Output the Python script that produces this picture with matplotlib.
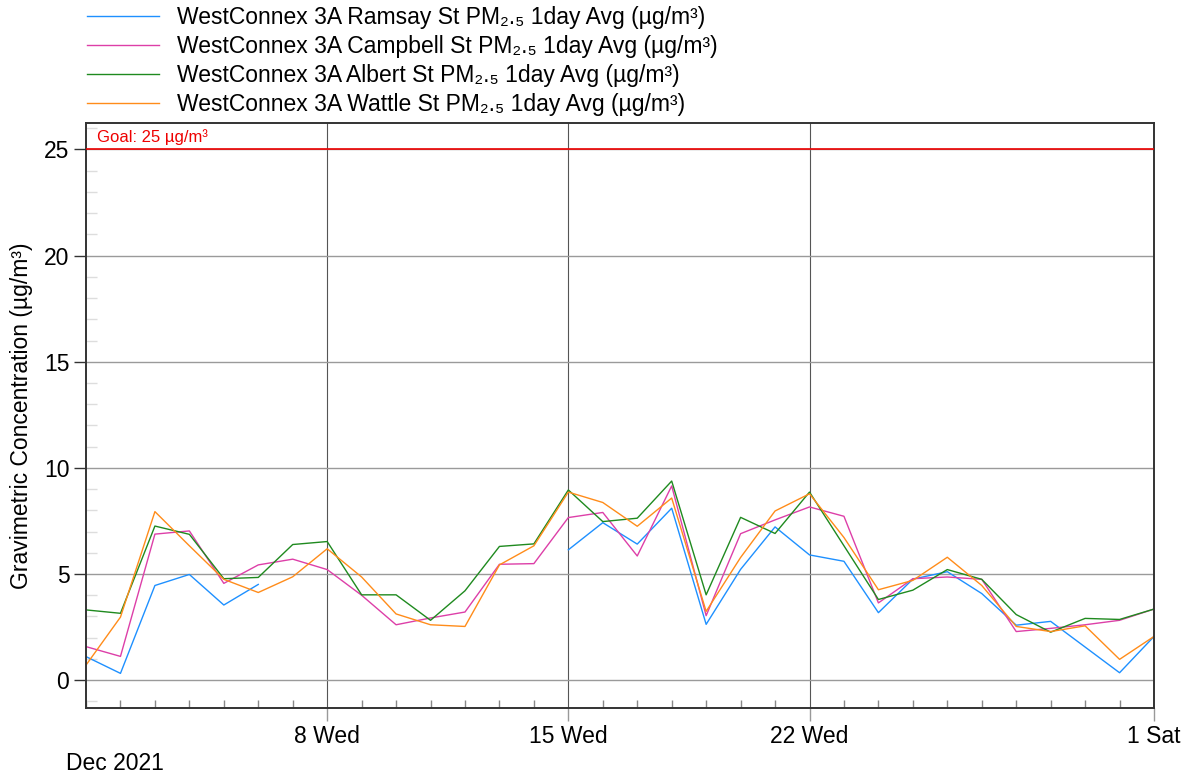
import matplotlib
matplotlib.use("Agg")
import matplotlib.pyplot as plt
import matplotlib.dates as mdates
import numpy as np
import pandas as pd

plt.rcParams["font.family"] = ["Liberation Sans", "DejaVu Sans"]

days = pd.date_range("2021-12-01", "2022-01-01", freq="D")
nan = np.nan

ramsay = [1.11, 0.32, 4.46, 4.98, 3.54, 4.51, nan, nan, nan, nan, nan, nan, nan, nan,
          6.14, 7.42, 6.41, 8.10, 2.63, 5.22, 7.22, 5.90, 5.60, 3.18, 4.76, 5.11,
          4.08, 2.59, 2.77, 1.56, 0.35, 2.06]
campbell = [1.58, 1.12, 6.88, 7.03, 4.56, 5.43, 5.70, 5.21, 4.00, 2.61, 2.93, 3.21,
            5.46, 5.49, 7.66, 7.90, 5.85, 9.15, 3.04, 6.90, 7.55, 8.16, 7.72, 3.64,
            4.78, 4.86, 4.75, 2.29, 2.44, 2.61, 2.82, 3.35]
albert = [3.31, 3.15, 7.26, 6.87, 4.78, 4.84, 6.39, 6.53, 4.02, 4.02, 2.82, 4.21,
          6.30, 6.42, 8.96, 7.47, 7.63, 9.38, 4.02, 7.67, 6.91, 8.86, 6.33, 3.80,
          4.24, 5.21, 4.75, 3.09, 2.26, 2.91, 2.86, 3.35]
wattle = [0.71, 2.97, 7.94, 6.33, 4.75, 4.13, 4.87, 6.19, 4.86, 3.12, 2.61, 2.53,
          5.43, 6.33, 8.86, 8.37, 7.25, 8.58, 3.24, 5.78, 7.97, 8.78, 6.72, 4.26,
          4.70, 5.79, 4.46, 2.53, 2.29, 2.56, 0.98, 2.06]

series = [
    ("WestConnex 3A Ramsay St PM₂.₅ 1day Avg (µg/m³)", ramsay, "#1e90ff"),
    ("WestConnex 3A Campbell St PM₂.₅ 1day Avg (µg/m³)", campbell, "#dd3fa8"),
    ("WestConnex 3A Albert St PM₂.₅ 1day Avg (µg/m³)", albert, "#1f8a1f"),
    ("WestConnex 3A Wattle St PM₂.₅ 1day Avg (µg/m³)", wattle, "#ff8c1a"),
]
goal = 25
major_days = pd.to_datetime(["2021-12-08", "2021-12-15", "2021-12-22", "2022-01-01"])

FS = 16.5

fig = plt.figure(figsize=(11.88, 7.78), dpi=100)
ax = fig.add_axes([0.0724, 0.090, 0.899, 0.752])

lines = []
for label, vals, color in series:
    ln, = ax.plot(days, vals, color=color, lw=1.0, label=label)
    lines.append(ln)

ax.axhline(goal, color="#ee0000", lw=1.2, zorder=3)
ax.text(days[0] + pd.Timedelta(hours=8), goal + 0.2, "Goal: 25 µg/m³",
        color="#ee0000", fontsize=12, va="bottom", ha="left")

ax.set_xlim(days[0], days[-1])
ax.set_ylim(-1.31, 26.25)

# y axis
ax.set_yticks(np.arange(0, 26, 5))
ax.set_yticks(np.arange(-1, 27, 1), minor=True)
ax.yaxis.grid(True, which="major", color="#9a9a9a", lw=1.0)
ax.tick_params(axis="y", which="major", direction="out", length=9, width=1,
               color="#333333", labelsize=FS, pad=3)
ax.tick_params(axis="y", which="minor", direction="in", length=8, width=1,
               color="#dddddd")

# x axis
ax.set_xticks(major_days)
ax.xaxis.set_minor_locator(mdates.DayLocator())
ax.set_xticklabels([f"{d.day} {d.strftime('%a')}" for d in major_days])
ax.tick_params(axis="x", which="major", direction="out", length=9, width=1,
               color="#999999", labelsize=FS, pad=3)
ax.tick_params(axis="x", which="minor", direction="in", length=6, width=1,
               color="#888888")
for d in major_days[:-1]:
    ax.axvline(d, color="#555555", lw=0.8, zorder=0.5)

for sp in ax.spines.values():
    sp.set_color("#333333")
    sp.set_linewidth(1.4)

ax.set_ylabel("Gravimetric Concentration (µg/m³)", fontsize=FS, labelpad=8)
fig.text(66 / 1188, 1 - 764 / 778, "Dec 2021", fontsize=FS, va="center", ha="left")

fig.legend(handles=lines, loc="upper left", bbox_to_anchor=(78 / 1188, 1.004),
           frameon=False, fontsize=FS, handlelength=3.15, handletextpad=0.78,
           labelspacing=0.26, borderaxespad=0)

fig.savefig("out.png", dpi=100)
